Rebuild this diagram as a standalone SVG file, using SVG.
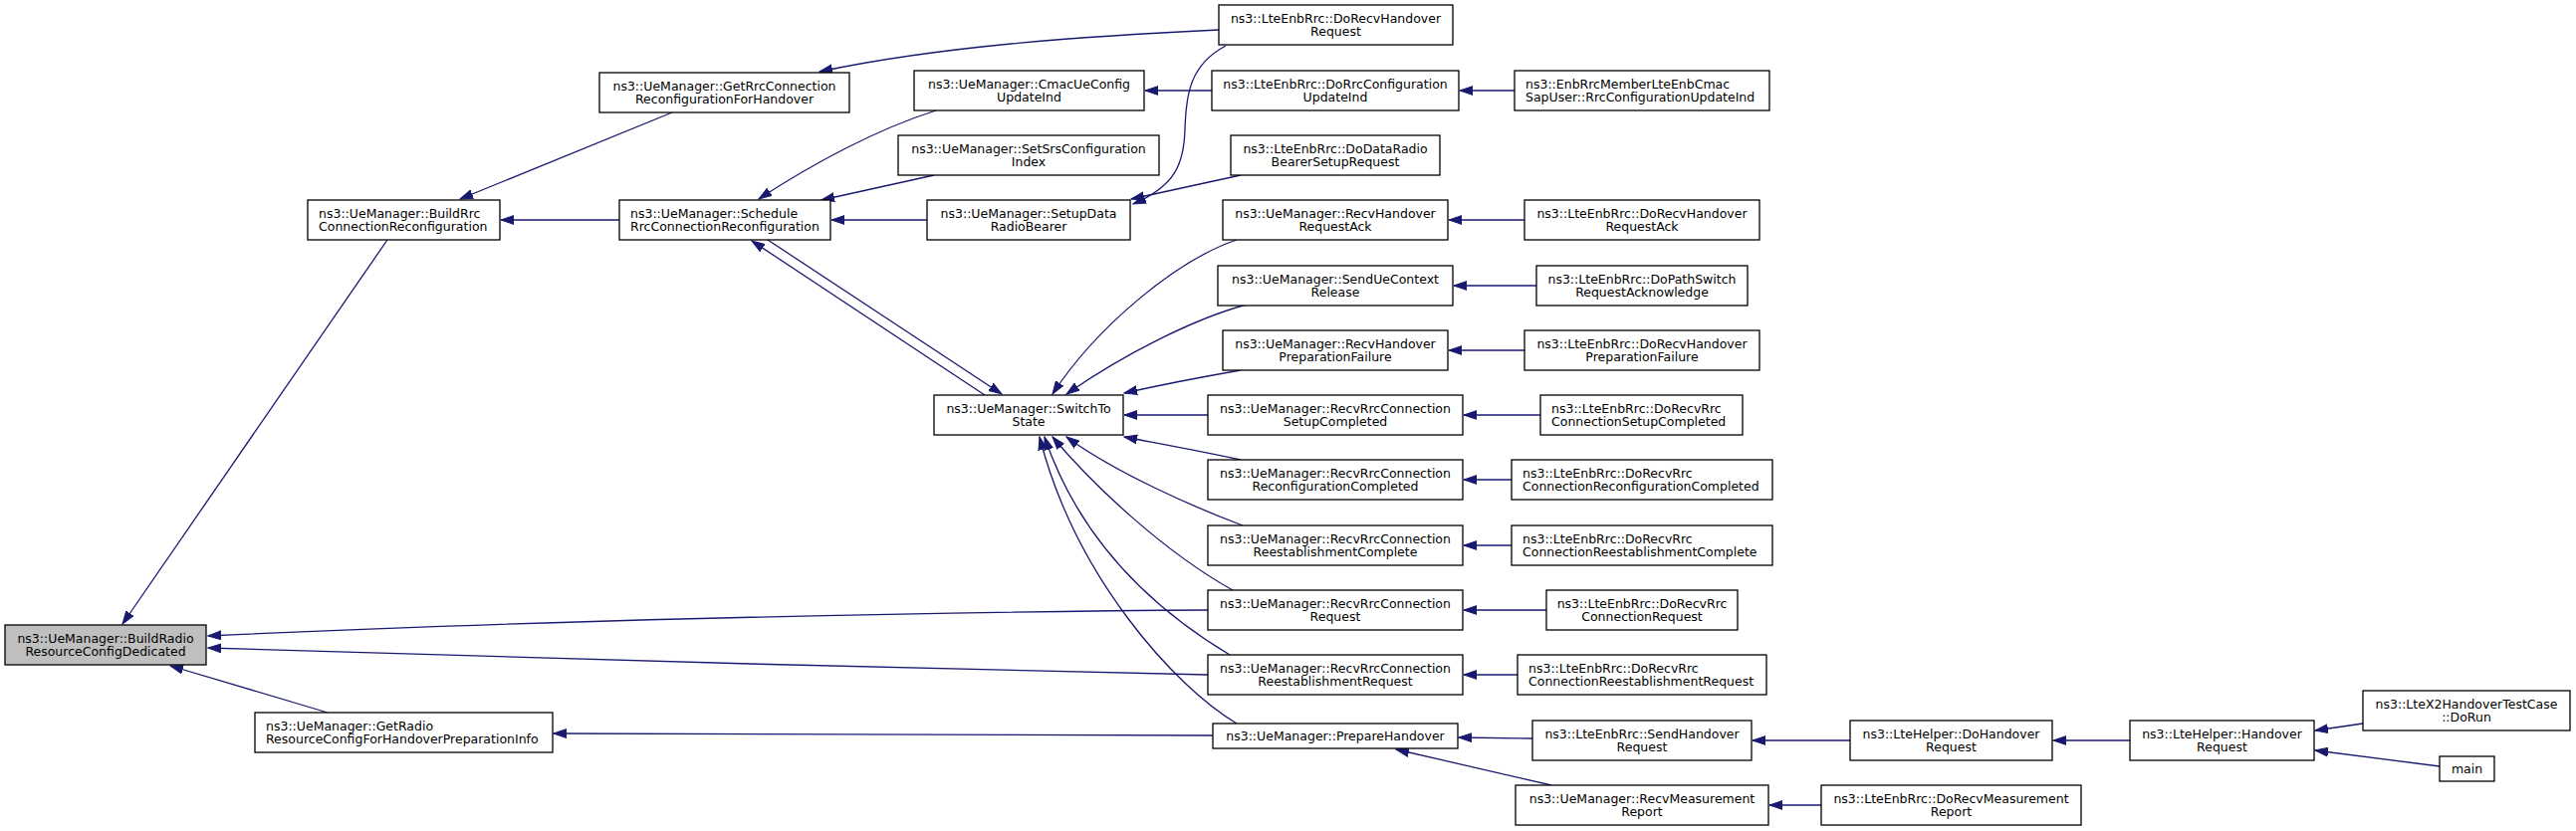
<svg xmlns="http://www.w3.org/2000/svg" width="2587" height="835" viewBox="0 0 2587 835">
<defs>
<style>
rect.n{fill:#fff;stroke:#000;stroke-width:1.3}
rect.g{fill:#bfbfbf}
text{font-family:"DejaVu Sans","Liberation Sans",sans-serif;font-size:12.5px;fill:#000}
text.c{text-anchor:middle}
text.l{text-anchor:start}
#edges path{fill:none;stroke:#191970;stroke-width:1.3;marker-end:url(#arr)}
</style>
<marker id="arr" viewBox="0 0 14 10" refX="13" refY="5" markerWidth="14" markerHeight="10" markerUnits="userSpaceOnUse" orient="auto"><path d="M0,0.6 L13,5 L0,9.4 z" fill="#191970" stroke="#191970" stroke-width="1"/></marker>
</defs>
<rect width="2587" height="835" fill="#fff"/>
<g id="edges">
<path d="M389,241 L123,627"/>
<path d="M329,716 L171,669"/>
<path d="M1213,613 C900,615 500,625 209,639"/>
<path d="M1213,678 C900,672 500,660 209,651"/>
<path d="M675,113 L462,200"/>
<path d="M622,221 L503,221"/>
<path d="M1224,30 C1100,36 950,45 823,72"/>
<path d="M1231,46 C1195,65 1191,95 1190,130 C1189,165 1180,187 1138,205"/>
<path d="M1246,176 L1136,200"/>
<path d="M940,111 C880,130 815,165 762,200"/>
<path d="M938,176 L825,201"/>
<path d="M931,221 L835,221"/>
<path d="M989,397 L755,242"/>
<path d="M771,241 L1006,396"/>
<path d="M1217,91 L1150,91"/>
<path d="M1521,91 L1466,91"/>
<path d="M1242,241 C1180,262 1100,330 1057,396"/>
<path d="M1252,306 C1200,320 1130,355 1071,396"/>
<path d="M1246,372 C1200,380 1160,388 1129,395"/>
<path d="M1213,417 L1129,417"/>
<path d="M1246,462 C1200,452 1160,445 1129,439"/>
<path d="M1248,528 C1200,510 1120,475 1071,439"/>
<path d="M1238,593 C1170,555 1100,490 1057,439"/>
<path d="M1235,658 C1180,625 1090,560 1049,439"/>
<path d="M1242,727 C1180,690 1080,580 1044,439"/>
<path d="M1218,739 L556,737"/>
<path d="M1531,221 L1455,221"/>
<path d="M1543,287 L1460,287"/>
<path d="M1531,352 L1455,352"/>
<path d="M1547,417 L1470,417"/>
<path d="M1518,482 L1470,482"/>
<path d="M1518,548 L1470,548"/>
<path d="M1553,613 L1470,613"/>
<path d="M1524,678 L1470,678"/>
<path d="M1539,742 L1465,741"/>
<path d="M1558,789 L1402,753"/>
<path d="M1858,744 L1760,744"/>
<path d="M1829,809 L1777,809"/>
<path d="M2139,744 L2062,744"/>
<path d="M2373,727 L2325,734"/>
<path d="M2450,770 L2325,754"/>
</g>
<g id="n_buildradio"><rect class="n g" x="5" y="628" width="202" height="40"/><text class="c" x="106" y="645.5">ns3::UeManager::BuildRadio</text><text class="c" x="106" y="659">ResourceConfigDedicated</text></g>
<g id="n_buildrrc"><rect class="n" x="309" y="201" width="193" height="40"/><text class="l" x="320" y="218.5">ns3::UeManager::BuildRrc</text><text class="l" x="320" y="232">ConnectionReconfiguration</text></g>
<g id="n_getradio"><rect class="n" x="256" y="716" width="299" height="40"/><text class="l" x="267" y="733.5">ns3::UeManager::GetRadio</text><text class="l" x="267" y="747">ResourceConfigForHandoverPreparationInfo</text></g>
<g id="n_getrrc"><rect class="n" x="602" y="73" width="251" height="40"/><text class="c" x="727.5" y="90.5">ns3::UeManager::GetRrcConnection</text><text class="c" x="727.5" y="104">ReconfigurationForHandover</text></g>
<g id="n_schedule"><rect class="n" x="622" y="201" width="212" height="40"/><text class="l" x="633" y="218.5">ns3::UeManager::Schedule</text><text class="l" x="633" y="232">RrcConnectionReconfiguration</text></g>
<g id="n_cmac"><rect class="n" x="918" y="71" width="231" height="40"/><text class="c" x="1033.5" y="88.5">ns3::UeManager::CmacUeConfig</text><text class="c" x="1033.5" y="102">UpdateInd</text></g>
<g id="n_setsrs"><rect class="n" x="902" y="136" width="262" height="40"/><text class="c" x="1033" y="153.5">ns3::UeManager::SetSrsConfiguration</text><text class="c" x="1033" y="167">Index</text></g>
<g id="n_setupdata"><rect class="n" x="931" y="201" width="204" height="40"/><text class="c" x="1033" y="218.5">ns3::UeManager::SetupData</text><text class="c" x="1033" y="232">RadioBearer</text></g>
<g id="n_switchto"><rect class="n" x="938" y="397" width="190" height="40"/><text class="c" x="1033" y="414.5">ns3::UeManager::SwitchTo</text><text class="c" x="1033" y="428">State</text></g>
<g id="n_dorecvho"><rect class="n" x="1224" y="5" width="235" height="40"/><text class="c" x="1341.5" y="22.5">ns3::LteEnbRrc::DoRecvHandover</text><text class="c" x="1341.5" y="36">Request</text></g>
<g id="n_dorrcconf"><rect class="n" x="1217" y="71" width="248" height="40"/><text class="c" x="1341" y="88.5">ns3::LteEnbRrc::DoRrcConfiguration</text><text class="c" x="1341" y="102">UpdateInd</text></g>
<g id="n_enbrrcmember"><rect class="n" x="1521" y="71" width="256" height="40"/><text class="l" x="1532" y="88.5">ns3::EnbRrcMemberLteEnbCmac</text><text class="l" x="1532" y="102">SapUser::RrcConfigurationUpdateInd</text></g>
<g id="n_dodata"><rect class="n" x="1236" y="136" width="210" height="40"/><text class="c" x="1341" y="153.5">ns3::LteEnbRrc::DoDataRadio</text><text class="c" x="1341" y="167">BearerSetupRequest</text></g>
<g id="n_recvhoack"><rect class="n" x="1228" y="201" width="226" height="40"/><text class="c" x="1341" y="218.5">ns3::UeManager::RecvHandover</text><text class="c" x="1341" y="232">RequestAck</text></g>
<g id="n_dorecvhoack"><rect class="n" x="1531" y="201" width="236" height="40"/><text class="c" x="1649" y="218.5">ns3::LteEnbRrc::DoRecvHandover</text><text class="c" x="1649" y="232">RequestAck</text></g>
<g id="n_senduectx"><rect class="n" x="1223" y="267" width="236" height="40"/><text class="c" x="1341" y="284.5">ns3::UeManager::SendUeContext</text><text class="c" x="1341" y="298">Release</text></g>
<g id="n_dopathswitch"><rect class="n" x="1543" y="267" width="212" height="40"/><text class="c" x="1649" y="284.5">ns3::LteEnbRrc::DoPathSwitch</text><text class="c" x="1649" y="298">RequestAcknowledge</text></g>
<g id="n_recvhoprep"><rect class="n" x="1228" y="332" width="226" height="40"/><text class="c" x="1341" y="349.5">ns3::UeManager::RecvHandover</text><text class="c" x="1341" y="363">PreparationFailure</text></g>
<g id="n_dorecvhoprep"><rect class="n" x="1531" y="332" width="236" height="40"/><text class="c" x="1649" y="349.5">ns3::LteEnbRrc::DoRecvHandover</text><text class="c" x="1649" y="363">PreparationFailure</text></g>
<g id="n_recvsetup"><rect class="n" x="1213" y="397" width="256" height="40"/><text class="c" x="1341" y="414.5">ns3::UeManager::RecvRrcConnection</text><text class="c" x="1341" y="428">SetupCompleted</text></g>
<g id="n_dorecvsetup"><rect class="n" x="1547" y="397" width="203" height="40"/><text class="l" x="1558" y="414.5">ns3::LteEnbRrc::DoRecvRrc</text><text class="l" x="1558" y="428">ConnectionSetupCompleted</text></g>
<g id="n_recvreconf"><rect class="n" x="1213" y="462" width="256" height="40"/><text class="c" x="1341" y="479.5">ns3::UeManager::RecvRrcConnection</text><text class="c" x="1341" y="493">ReconfigurationCompleted</text></g>
<g id="n_dorecvreconf"><rect class="n" x="1518" y="462" width="262" height="40"/><text class="l" x="1529" y="479.5">ns3::LteEnbRrc::DoRecvRrc</text><text class="l" x="1529" y="493">ConnectionReconfigurationCompleted</text></g>
<g id="n_recvreestc"><rect class="n" x="1213" y="528" width="256" height="40"/><text class="c" x="1341" y="545.5">ns3::UeManager::RecvRrcConnection</text><text class="c" x="1341" y="559">ReestablishmentComplete</text></g>
<g id="n_dorecvreestc"><rect class="n" x="1518" y="528" width="262" height="40"/><text class="l" x="1529" y="545.5">ns3::LteEnbRrc::DoRecvRrc</text><text class="l" x="1529" y="559">ConnectionReestablishmentComplete</text></g>
<g id="n_recvreq"><rect class="n" x="1213" y="593" width="256" height="40"/><text class="c" x="1341" y="610.5">ns3::UeManager::RecvRrcConnection</text><text class="c" x="1341" y="624">Request</text></g>
<g id="n_dorecvreq"><rect class="n" x="1553" y="593" width="192" height="40"/><text class="c" x="1649" y="610.5">ns3::LteEnbRrc::DoRecvRrc</text><text class="c" x="1649" y="624">ConnectionRequest</text></g>
<g id="n_recvreestr"><rect class="n" x="1213" y="658" width="256" height="40"/><text class="c" x="1341" y="675.5">ns3::UeManager::RecvRrcConnection</text><text class="c" x="1341" y="689">ReestablishmentRequest</text></g>
<g id="n_dorecvreestr"><rect class="n" x="1524" y="658" width="250" height="40"/><text class="l" x="1535" y="675.5">ns3::LteEnbRrc::DoRecvRrc</text><text class="l" x="1535" y="689">ConnectionReestablishmentRequest</text></g>
<g id="n_preparehandover"><rect class="n" x="1218" y="727" width="246" height="25"/><text class="c" x="1341" y="744">ns3::UeManager::PrepareHandover</text></g>
<g id="n_sendhoreq"><rect class="n" x="1539" y="724" width="220" height="40"/><text class="c" x="1649" y="741.5">ns3::LteEnbRrc::SendHandover</text><text class="c" x="1649" y="755">Request</text></g>
<g id="n_recvmeas"><rect class="n" x="1522" y="789" width="254" height="40"/><text class="c" x="1649" y="806.5">ns3::UeManager::RecvMeasurement</text><text class="c" x="1649" y="820">Report</text></g>
<g id="n_dohoreq"><rect class="n" x="1858" y="724" width="203" height="40"/><text class="c" x="1959.5" y="741.5">ns3::LteHelper::DoHandover</text><text class="c" x="1959.5" y="755">Request</text></g>
<g id="n_horeq"><rect class="n" x="2139" y="724" width="185" height="40"/><text class="c" x="2231.5" y="741.5">ns3::LteHelper::Handover</text><text class="c" x="2231.5" y="755">Request</text></g>
<g id="n_dorun"><rect class="n" x="2373" y="694" width="208" height="40"/><text class="c" x="2477" y="711.5">ns3::LteX2HandoverTestCase</text><text class="c" x="2477" y="725">::DoRun</text></g>
<g id="n_main"><rect class="n" x="2450" y="760" width="55" height="25"/><text class="c" x="2477.5" y="777">main</text></g>
<g id="n_dorecvmeas"><rect class="n" x="1829" y="789" width="261" height="40"/><text class="c" x="1959.5" y="806.5">ns3::LteEnbRrc::DoRecvMeasurement</text><text class="c" x="1959.5" y="820">Report</text></g>
</svg>
